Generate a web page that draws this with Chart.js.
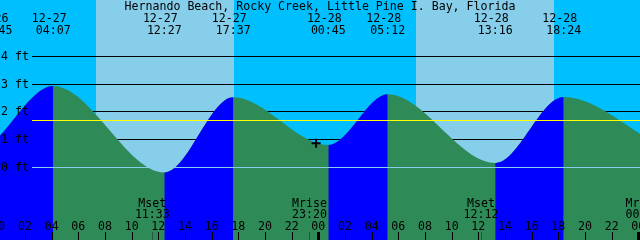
<!DOCTYPE html>
<html>
<head>
<meta charset="utf-8">
<script src="https://cdn.jsdelivr.net/npm/chart.js@4.4.1/dist/chart.umd.min.js"></script>
<style>
  body { margin: 0; background: #00bfff; }
  canvas { display: block; }
</style>
</head>
<body>
<canvas id="tideChart" width="640" height="240"></canvas>
<script>
var title = 'Hernando Beach, Rocky Creek, Little Pine I. Bay, Florida';

// high / low tides (MM-DD HH:MM) and heights in ft
var tideTimes = ['12-26 23:45', '12-27 04:07', '12-27 12:27', '12-27 17:37', '12-28 00:45',
                 '12-28 05:12', '12-28 13:16', '12-28 18:24', '12-29 01:40'];
var tideHeights = [0.95, 2.92, -0.2, 2.51, 0.79, 2.62, 0.14, 2.52, 0.75];

var sunrise = ['12-27 07:20', '12-28 07:20'];
var sunset = ['12-27 17:40', '12-28 17:41'];

var moonTimes = ['12-27 11:33', '12-27 23:20', '12-28 12:12', '12-29 00:21'];
var moonEvents = ['Mset', 'Mrise', 'Mset', 'Mrise'];

var nowTime = '12-27 23:50';
var nowHeight = 0.86;
var meanLevel = 1.69;

var ftTicks = [0, 1, 2, 3, 4];
var hourTicks = [0, 2, 4, 6, 8, 10, 12, 14, 16, 18, 20, 22, 24,
                 26, 28, 30, 32, 34, 36, 38, 40, 42, 44, 46, 48];

var FONT = '11.6px "DejaVu Sans Mono"';

// hours since 12-27 00:00
function hrs(s) {
    var d = parseInt(s.slice(3, 5), 10);
    var hh = parseInt(s.slice(6, 8), 10);
    var mm = parseInt(s.slice(9, 11), 10);
    return (d - 27) * 24 + hh + mm / 60;
}
function pad(n) { return (n < 10 ? '0' : '') + n; }

var tidePoints = tideTimes.map(function(t, i) { return {x: hrs(t), y: tideHeights[i]}; });

var tideDecor = {
    id: 'tideDecor',
    beforeDatasetsDraw: function(chart) {
        var c = chart.ctx, xs = chart.scales.x, ys = chart.scales.y, a = chart.chartArea;
        c.save();
        c.fillStyle = '#00bfff';
        c.fillRect(a.left, a.top, a.width, a.height);
        c.fillStyle = '#87ceeb';
        for (var i = 0; i < sunrise.length; i++) {
            var x0 = Math.round(xs.getPixelForValue(hrs(sunrise[i])));
            var x1 = Math.round(xs.getPixelForValue(hrs(sunset[i])));
            c.fillRect(x0, a.top, x1 - x0, a.height);
        }
        c.strokeStyle = '#000';
        c.lineWidth = 1;
        ftTicks.forEach(function(v) {
            if (v === 0) return;
            var py = Math.round(ys.getPixelForValue(v)) + 0.5;
            c.beginPath(); c.moveTo(32, py); c.lineTo(a.right, py); c.stroke();
        });
        c.restore();
    },
    afterDatasetsDraw: function(chart) {
        var c = chart.ctx, xs = chart.scales.x, ys = chart.scales.y, a = chart.chartArea;
        c.save();
        c.lineWidth = 1;
        // zero line and mean level
        var py = Math.round(ys.getPixelForValue(0)) + 0.5;
        c.strokeStyle = '#87ceeb';
        c.beginPath(); c.moveTo(32, py); c.lineTo(a.right, py); c.stroke();
        py = Math.round(ys.getPixelForValue(meanLevel)) + 0.5;
        c.strokeStyle = '#ffff00';
        c.beginPath(); c.moveTo(32, py); c.lineTo(a.right, py); c.stroke();

        c.font = FONT;
        c.fillStyle = '#000';
        c.textBaseline = 'alphabetic';

        // ft labels
        c.textAlign = 'left';
        ftTicks.forEach(function(v) {
            c.fillText(v + ' ft', 1, Math.round(ys.getPixelForValue(v)) + 4);
        });

        // title and tide times
        c.textAlign = 'center';
        c.fillText(title, 320, 10);
        tideTimes.forEach(function(t) {
            var px = xs.getPixelForValue(hrs(t));
            c.fillText(t.slice(0, 5), px - 4, 22);
            c.fillText(t.slice(6), px, 34);
        });

        // moon events
        moonTimes.forEach(function(t, i) {
            var px = xs.getPixelForValue(hrs(t));
            c.fillStyle = '#000';
            c.fillText(moonEvents[i], px, 207);
            c.fillText(t.slice(6), px, 218);
            c.fillStyle = '#2f4f4f';
            c.fillRect(Math.round(px), 232, 1, 8);
        });

        // hour ticks
        c.fillStyle = '#000';
        hourTicks.forEach(function(h) {
            var px = xs.getPixelForValue(h);
            if (h % 24 === 0) c.fillRect(Math.round(px) - 1, 232, 3, 8);
            else c.fillRect(Math.round(px), 232, 1, 8);
            c.fillText(pad(h % 24), px, 230);
        });
        c.restore();
    }
};

var ctx = document.getElementById('tideChart').getContext('2d');
var chart = new Chart(ctx, {
    type: 'line',
    data: {
        datasets: [{
            // current time marker
            data: [{x: hrs(nowTime), y: nowHeight}],
            showLine: false,
            pointStyle: 'cross',
            pointRadius: 4.5,
            borderColor: '#000',
            borderWidth: 2,
            order: 0
        }, {
            // rising tide on top
            label: 'rising',
            data: tidePoints,
            cubicInterpolationMode: 'monotone',
            borderWidth: 0,
            borderColor: 'transparent',
            pointRadius: 0,
            fill: 'start',
            order: 1,
            segment: {
                backgroundColor: function(s) {
                    return s.p1.parsed.y > s.p0.parsed.y ? '#0000ff' : 'transparent';
                }
            }
        }, {
            // whole water body, falling colour
            label: 'tide',
            data: tidePoints,
            cubicInterpolationMode: 'monotone',
            borderWidth: 0,
            borderColor: 'transparent',
            backgroundColor: '#2e8b57',
            pointRadius: 0,
            fill: 'start',
            order: 2
        }]
    },
    options: {
        responsive: false,
        devicePixelRatio: 1,
        animation: false,
        layout: { padding: 0, autoPadding: false },
        scales: {
            x: { type: 'linear', min: 0.125, max: 48.125, display: false },
            y: { min: -2.631, max: 6.018, display: false }
        },
        plugins: {
            legend: { display: false },
            tooltip: { enabled: false }
        }
    },
    plugins: [tideDecor]
});
</script>
</body>
</html>
